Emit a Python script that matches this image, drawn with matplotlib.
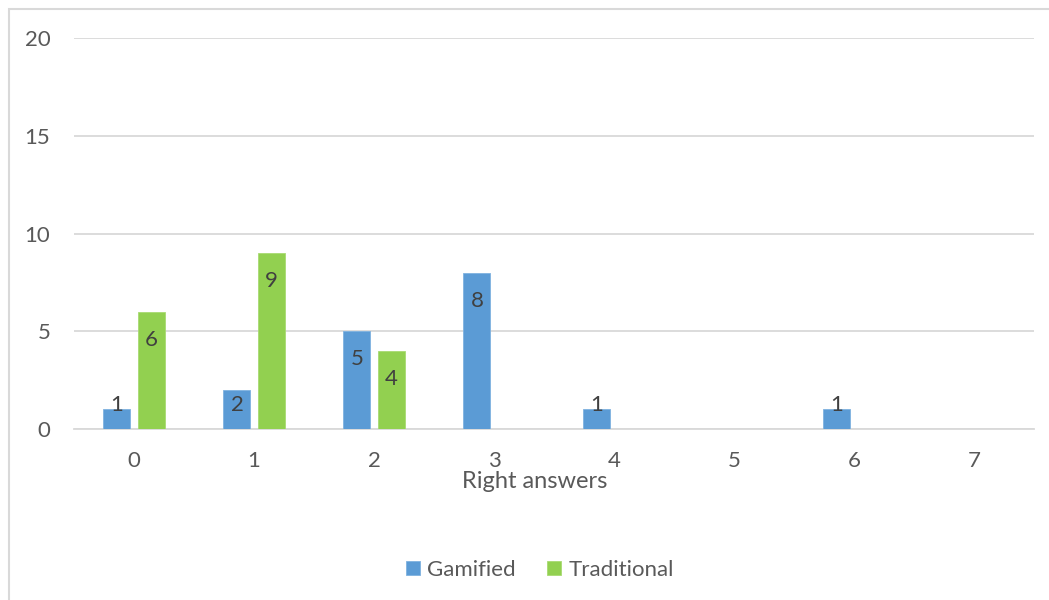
import matplotlib.pyplot as plt
from matplotlib.patches import Rectangle
import numpy as np

categories = ['0', '1', '2', '3', '4', '5', '6', '7']
gamified = [1, 2, 5, 8, 1, 0, 1, 0]
traditional = [6, 9, 4, 0, 0, 0, 0, 0]
yticks = [0, 5, 10, 15, 20]

blue = '#5B9BD5'
green = '#92D050'
txt = '#595959'
grid = '#D9D9D9'

plt.rcParams['font.family'] = ['Lato', 'DejaVu Sans']

fig = plt.figure(figsize=(10.49, 6), dpi=100)
ax = fig.add_axes([74 / 1049, 171 / 600, 960 / 1049, 391 / 600])

x = np.arange(len(categories))
w = 0.225
off = 0.142


def labels(xs, vals):
    for xi, v in zip(xs, vals):
        if v == 0:
            continue
        ypos = max(v - 1.43, 1.23)
        ax.text(xi, ypos, str(v), ha='center', va='center', fontsize=16, color='#404040')


gx = [xi for xi, v in zip(x, gamified) if v > 0]
gv = [v for v in gamified if v > 0]
tx = [xi for xi, v in zip(x, traditional) if v > 0]
tv = [v for v in traditional if v > 0]
b1 = ax.bar(x - off, gamified, w, color=blue, edgecolor='#7FB2E0', linewidth=0.6, label='Gamified', zorder=3)
b2 = ax.bar(x + off, traditional, w, color=green, edgecolor='#A8DB72', linewidth=0.6, label='Traditional', zorder=3)
labels(np.array(gx) - off, gv)
labels(np.array(tx) + off, tv)

ax.set_xlim(-0.5, 7.5)
ax.set_ylim(0, 20)
ax.set_xticks(x)
ax.set_xticklabels(categories)
ax.set_yticks(yticks)
ax.tick_params(axis='both', length=0, labelsize=16, colors=txt)
ax.tick_params(axis='x', pad=16)
ax.tick_params(axis='y', pad=17)
ax.yaxis.grid(True, color=grid, linewidth=1.3, zorder=0)
ax.set_axisbelow(True)
for s in ['top', 'right', 'left']:
    ax.spines[s].set_visible(False)
ax.spines['bottom'].set_color(grid)
ax.spines['bottom'].set_linewidth(1.3)

ax.set_xlabel('Right answers', fontsize=17, color=txt)
ax.xaxis.set_label_coords((535 - 74) / 960, -53 / 391)
ax.xaxis.label.set_va('center')

fig.legend(handles=[b1, b2], loc='center', bbox_to_anchor=(540 / 1049, 1 - 570 / 600),
           ncol=2, frameon=False, fontsize=16, labelcolor=txt,
           handlelength=0.6, handleheight=0.6, handletextpad=0.35, columnspacing=1.4)

# chart border (Excel chart area)
fig.patches.append(Rectangle((8.5 / 1049, -0.01), 1.05, 1 - 8.5 / 600 + 0.01,
                             transform=fig.transFigure, fill=False,
                             edgecolor=grid, linewidth=1.5))

fig.savefig('out.png', dpi=100)
